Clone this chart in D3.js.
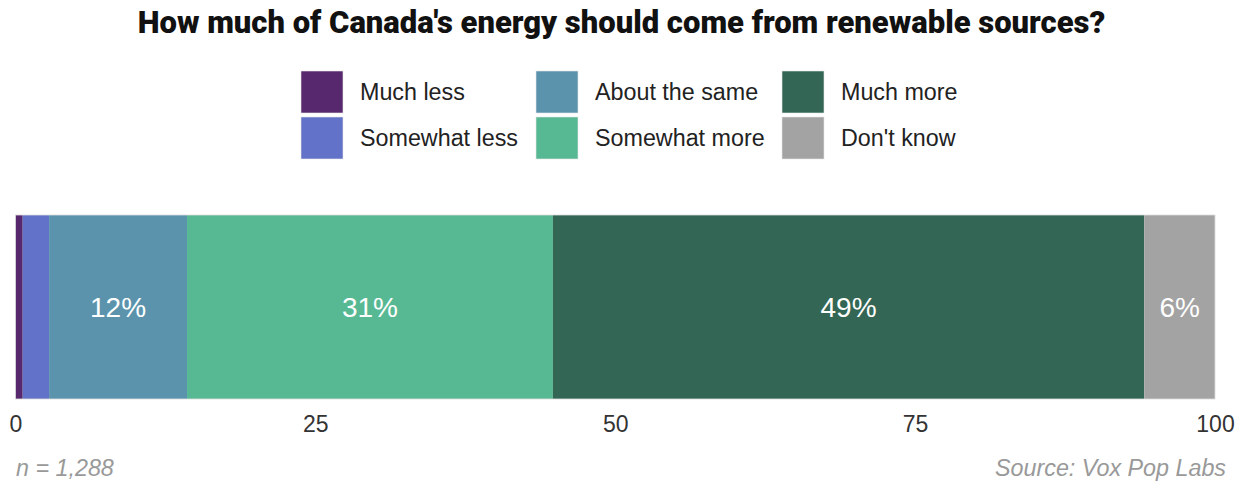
<!DOCTYPE html>
<html>
<head>
<meta charset="utf-8">
<script src="https://cdn.jsdelivr.net/npm/d3@7"></script>
<style>
  html, body { margin: 0; padding: 0; background: #fff; }
  svg { display: block; }
</style>
</head>
<body>
<svg id="chart" width="1239" height="481"></svg>
<script>
const categories = ["Much less", "Somewhat less", "About the same", "Somewhat more", "Much more", "Don't know"];
const values = [0.6, 2.2, 11.5, 30.5, 49.3, 5.9];
const labels = ["", "", "12%", "31%", "49%", "6%"];
const colors = ["#57286e", "#6272c9", "#5b93ad", "#57b993", "#336654", "#a3a3a3"];
const tickValues = [0, 25, 50, 75, 100];
const title = "How much of Canada's energy should come from renewable sources?";
const noteLeft = "n = 1,288";
const noteRight = "Source: Vox Pop Labs";

const svg = d3.select("#chart");
const W = 1239;
const margin = {left: 15.5, right: 24};
const x = d3.scaleLinear().domain([0, 100]).range([margin.left, W - margin.right]);
const barTop = 215, barH = 184;
const bodyFont = "'Liberation Sans', Arial, sans-serif";

// Title
svg.append("text")
  .attr("x", 621.5).attr("y", 33)
  .attr("text-anchor", "middle")
  .style("font-family", "Roboto, 'Liberation Sans', sans-serif")
  .style("font-weight", 900)
  .style("font-size", "31px")
  .style("fill", "#111")
  .text(title);

// Legend
const legCols = [301, 536, 782];
const legRows = [71, 117];
const sw = 42;
const leg = svg.append("g");
categories.forEach((c, i) => {
  const col = Math.floor(i / 2), row = i % 2;
  const g = leg.append("g").attr("transform", `translate(${legCols[col]},${legRows[row]})`);
  g.append("rect").attr("width", sw).attr("height", sw).attr("fill", colors[i])
    .attr("stroke", "#e6e6e6").attr("stroke-width", 0.6);
  g.append("text").attr("x", sw + 17).attr("y", sw / 2).attr("dy", "0.35em")
    .style("font-family", bodyFont)
    .style("font-size", "23.3px").style("fill", "#222").text(c);
});

// Stack
const data = categories.map((c, i) => ({c, v: values[i], label: labels[i], color: colors[i]}));
let acc = 0;
data.forEach(d => { d.x0 = acc; acc += d.v; d.x1 = acc; });

const bars = svg.append("g");
bars.selectAll("rect").data(data).join("rect")
  .attr("x", d => x(d.x0)).attr("y", barTop)
  .attr("width", d => x(d.x1) - x(d.x0)).attr("height", barH)
  .attr("fill", d => d.color);
bars.append("rect")
  .attr("x", x(0)).attr("y", barTop).attr("width", x(acc) - x(0)).attr("height", barH)
  .attr("fill", "none").attr("stroke", "#dddddd").attr("stroke-width", 0.8);

bars.selectAll("text").data(data.filter(d => d.label)).join("text")
  .attr("x", d => (x(d.x0) + x(d.x1)) / 2).attr("y", barTop + barH / 2)
  .attr("dy", "0.35em").attr("text-anchor", "middle")
  .style("font-family", bodyFont)
  .style("font-size", "28px").style("fill", "#fff")
  .text(d => d.label);

// Axis
const axis = d3.axisBottom(x).tickValues(tickValues).tickSize(0).tickPadding(0).tickFormat(d3.format("d"));
const ag = svg.append("g").attr("transform", `translate(0, ${barTop + barH + 17})`).call(axis);
ag.select(".domain").remove();
ag.selectAll("text")
  .style("font-family", bodyFont)
  .style("font-size", "23px").style("fill", "#333");

// Footer
svg.append("text").attr("x", 16).attr("y", 476)
  .style("font-family", bodyFont)
  .style("font-style", "italic").style("font-size", "23.3px").style("fill", "#999")
  .text(noteLeft);
svg.append("text").attr("x", 1226).attr("y", 476).attr("text-anchor", "end")
  .style("font-family", bodyFont)
  .style("font-style", "italic").style("font-size", "23.3px").style("fill", "#999")
  .text(noteRight);
</script>
</body>
</html>
